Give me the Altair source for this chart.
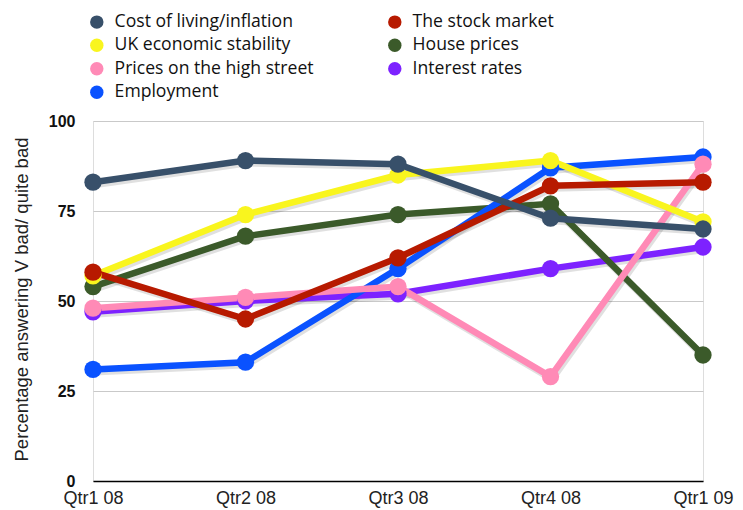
import altair as alt
import pandas as pd

quarters = ["Qtr1 08", "Qtr2 08", "Qtr3 08", "Qtr4 08", "Qtr1 09"]

cost_of_living = [83, 89, 88, 73, 70]
uk_stability = [57, 74, 85, 89, 72]
high_street = [48, 51, 54, 29, 88]
employment = [31, 33, 59, 87, 90]
stock_market = [58, 45, 62, 82, 83]
house_prices = [54, 68, 74, 77, 35]
interest_rates = [47, 50, 52, 59, 65]

series_names = [
    "Cost of living/inflation",
    "UK economic stability",
    "Prices on the high street",
    "Employment",
    "The stock market",
    "House prices",
    "Interest rates",
]
series_values = [cost_of_living, uk_stability, high_street, employment,
                 stock_market, house_prices, interest_rates]
series_colors = ["#38506a", "#f9f51e", "#ff8ab6", "#0a52ff",
                 "#b71a00", "#3b5a2a", "#7d22ff"]

# drawing order bottom -> top
draw_order = ["Interest rates", "House prices", "Employment",
              "Prices on the high street", "UK economic stability",
              "The stock market", "Cost of living/inflation"]

values_of = dict(zip(series_names, series_values))
rows = []
for rank, name in enumerate(draw_order):
    for q, v in zip(quarters, values_of[name]):
        rows.append({"Quarter": q, "Value": v, "Series": name, "Rank": rank})
df = pd.DataFrame(rows)

x_enc = alt.X("Quarter:N", sort=quarters,
              scale=alt.Scale(type="point", padding=0),
              axis=alt.Axis(title=None, labelAngle=0, ticks=False, grid=False,
                            domain=True, domainColor="#000000", domainWidth=1.5,
                            labelFont="Liberation Sans", labelFontSize=18,
                            labelColor="#222222", labelPadding=8))
y_enc = alt.Y("Value:Q", scale=alt.Scale(domain=[0, 100], nice=False),
              axis=alt.Axis(title="Percentage answering V bad/ quite bad",
                            values=[0, 25, 50, 75, 100], ticks=False, domain=False,
                            grid=True, gridColor="#c9c9c9", gridWidth=1,
                            labelFont="Liberation Sans", labelFontSize=16,
                            labelFontWeight="bold", labelColor="#111111",
                            labelPadding=18,
                            titleFont="Liberation Sans", titleFontSize=18.5,
                            titleFontWeight="normal", titleColor="#222222",
                            titleAngle=270, titleX=-72, titleY=178,
                            titleAlign="center", titleBaseline="middle"))

color_scale = alt.Scale(domain=series_names, range=series_colors)
legend = alt.Legend(title=None, orient="none", legendX=-5, legendY=-108,
                    direction="vertical",
                    columns=2, columnPadding=72, rowPadding=4.5,
                    symbolType="circle", symbolSize=180, symbolStrokeWidth=0,
                    labelFont="Open Sans", labelFontSize=17.6, labelColor="#111111",
                    labelOffset=9, labelLimit=400, padding=0)
color_enc = alt.Color("Series:N", scale=color_scale, legend=legend)

base = alt.Chart(df)
shadow = base.mark_line(strokeWidth=7, color="#000000", opacity=0.12,
                        xOffset=1.5, yOffset=2.5).encode(
    x=x_enc, y=y_enc, detail="Series:N")
lines = base.mark_line(strokeWidth=6.5).encode(
    x=x_enc, y=y_enc, color=color_enc)
points = base.mark_circle(size=300, opacity=1).encode(
    x=x_enc, y=y_enc, color=color_enc, order=alt.Order("Rank:Q"))

chart = alt.layer(shadow, lines, points).properties(
    width=610, height=360,
    autosize=alt.AutoSizeParams(type="none"),
    padding={"left": 85, "top": 113, "right": 32, "bottom": 28},
).configure_view(stroke=None).configure(background="#ffffff")

chart.save("out.html", embed_options={"renderer": "svg", "actions": False})
